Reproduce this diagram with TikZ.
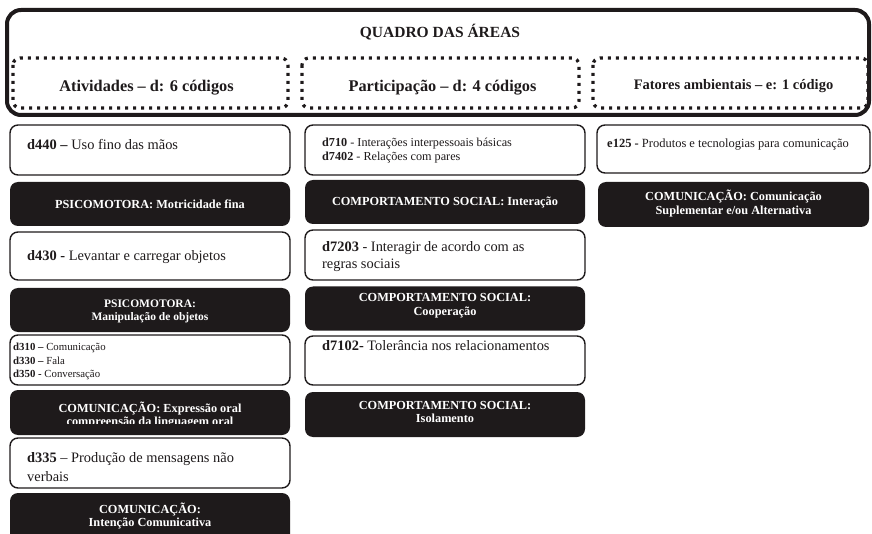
\documentclass[tikz,border=0pt]{standalone}
\usepackage{fontspec}
\setmainfont{Liberation Serif}
\definecolor{ink}{RGB}{30,26,27}
\tikzset{
  frame/.style={draw=ink, line width=4pt, rounded corners=14pt},
  dotbox/.style={draw=ink, line width=3.2pt, dash pattern=on 3pt off 5pt, rounded corners=7pt},
  wbox/.style={draw=ink, line width=1.4pt, rounded corners=8pt, fill=white, inner sep=0pt},
  bbox/.style={fill=ink, rounded corners=8pt, inner sep=0pt},
  lbl/.style={anchor=west, inner sep=0pt, align=left, text=ink},
  big/.style={font=\fontsize{14.4}{18}\selectfont},
  wlbl/.style={inner sep=0pt, align=center, text=white, font=\bfseries\fontsize{12.3}{13.5}\selectfont},
  head/.style={inner sep=0pt, text=ink, font=\bfseries\fontsize{16.3}{18}\selectfont},
}
\begin{document}
\begin{tikzpicture}[x=1pt,y=-1pt]
\useasboundingbox (0,0) rectangle (872,534);
% header
\draw[frame] (7,10) rectangle (869,115);
\node[inner sep=0pt, text=ink, font=\bfseries\fontsize{15.5}{17}\selectfont] (title) at (440,32) {QUADRO DAS ÁREAS};
\draw[dotbox] (13,58) rectangle (288,108);
\draw[dotbox] (302,58) rectangle (579,108);
\draw[dotbox] (593,58) rectangle (868,108);
\node[head] (h1) at (146.5,88) {Atividades – d: 6 códigos};
\node[head] (h2) at (442.5,88) {Participação – d: 4 códigos};
\node[head, font=\bfseries\fontsize{14.5}{16}\selectfont] (h3) at (733.5,86) {Fatores ambientais – e: 1 código};

% column 1
\node[wbox, minimum width=280, minimum height=50] (a1) at (150,150) {};
\node[lbl, big] (a1t) at (27,145) {\textbf{d440 –} Uso fino das mãos};
\node[bbox, minimum width=280, minimum height=44] (a2) at (150,204) {};
\node[wlbl] (a2t) at (a2.center) {PSICOMOTORA: Motricidade fina};
\node[wbox, minimum width=280, minimum height=48] (a3) at (150,256) {};
\node[lbl, big] (a3t) at (27,257) {\textbf{d430 -} Levantar e carregar objetos};
\node[bbox, minimum width=280, minimum height=44] (a4) at (150,310) {};
\node[wlbl, font=\bfseries\fontsize{11.5}{13}\selectfont] (a4t) at (150,311) {PSICOMOTORA:\\Manipulação de objetos};
\node[wbox, minimum width=280, minimum height=50] (a5) at (150,360) {};
\node[lbl, font=\fontsize{10.8}{13.3}\selectfont] (a5t) at (13,361.5) {\textbf{d310 –} Comunicação\\\textbf{d330 –} Fala\\\textbf{d350 -} Conversação};
\node[bbox, minimum width=280, minimum height=45,
  path picture={
    \clip (path picture bounding box.north west) rectangle ([yshift=12pt]path picture bounding box.south east);
    \node[wlbl] at ([yshift=-2.5pt]path picture bounding box.center) {COMUNICAÇÃO: Expressão oral\\compreensão da linguagem oral};}] (a6) at (150,412.5) {};
\node[wbox, minimum width=280, minimum height=50] (a7) at (150,463) {};
\node[lbl, font=\fontsize{14.4}{18.3}\selectfont] (a7t) at (27,467) {\textbf{d335} – Produção de mensagens não\\verbais};
\node[bbox, minimum width=280, minimum height=50] (a8) at (150,518) {};
\node[wlbl] (a8t) at (150,516) {COMUNICAÇÃO:\\Intenção Comunicativa};

% column 2
\node[wbox, minimum width=280, minimum height=50] (b1) at (445,150) {};
\node[lbl, font=\fontsize{12.2}{14}\selectfont] (b1t) at (322,150.5) {\textbf{d710} - Interações interpessoais básicas\\\textbf{d7402} - Relações com pares};
\node[bbox, minimum width=280, minimum height=44] (b2) at (445,202) {};
\node[wlbl] (b2t) at (b2.center) {COMPORTAMENTO SOCIAL: Interação};
\node[wbox, minimum width=280, minimum height=50] (b3) at (445,255) {};
\node[lbl, font=\fontsize{14.4}{17}\selectfont] (b3t) at (322,256.5) {\textbf{d7203} - Interagir de acordo com as\\regras sociais};
\node[bbox, minimum width=280, minimum height=44] (b4) at (445,308.5) {};
\node[wlbl] (b4t) at (445,305.5) {COMPORTAMENTO SOCIAL:\\Cooperação};
\node[wbox, minimum width=280, minimum height=49] (b5) at (445,360.5) {};
\node[lbl, big] (b5t) at (322,345.5) {\textbf{d7102-} Tolerância nos relacionamentos};
\node[bbox, minimum width=280, minimum height=45] (b6) at (445,414.5) {};
\node[wlbl] (b6t) at (445,412) {COMPORTAMENTO SOCIAL:\\Isolamento};

% column 3
\node[wbox, minimum width=273, minimum height=48] (c1) at (733.5,149) {};
\node[lbl, font=\fontsize{12.5}{14}\selectfont] (c1t) at (607,145) {\textbf{e125 -} Produtos e tecnologias para comunicação};
\node[bbox, minimum width=271, minimum height=45] (c2) at (733.5,204.5) {};
\node[wlbl] (c2t) at (733.5,203.5) {COMUNICAÇÃO: Comunicação\\Suplementar e/ou Alternativa};
\end{tikzpicture}
\end{document}
